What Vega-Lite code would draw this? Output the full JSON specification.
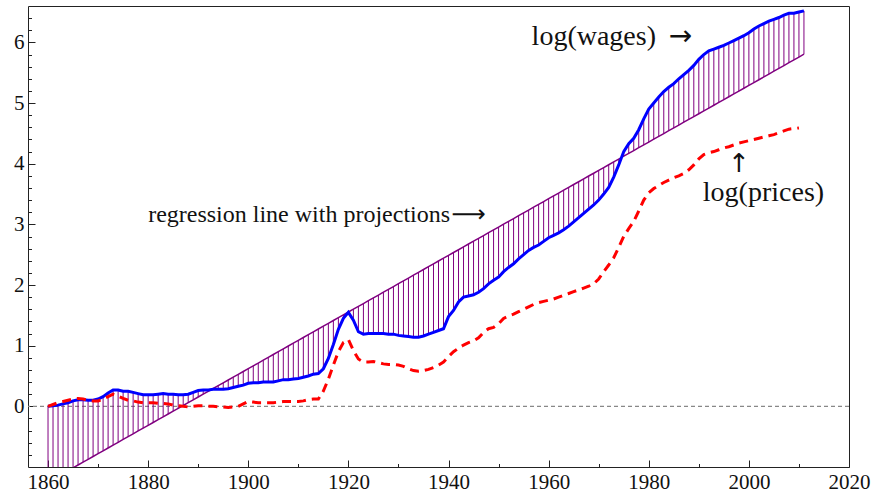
{
  "$schema": "https://vega.github.io/schema/vega-lite/v6.json",
  "width": 821,
  "height": 461,
  "autosize": "none",
  "padding": {"left": 28, "top": 6, "right": 27, "bottom": 25},
  "background": "white",
  "config": {"view": {"stroke": "#222", "strokeWidth": 1}, "font": "Liberation Serif"},
  "resolve": {"axis": {"x": "independent", "y": "independent"}},
  "datasets": {
    "series": [
      {"year":1860,"wages":0.00,"prices":0.00,"reg":-1.247},
      {"year":1861,"wages":0.01,"prices":0.03,"reg":-1.200},
      {"year":1862,"wages":0.02,"prices":0.06,"reg":-1.154},
      {"year":1863,"wages":0.04,"prices":0.08,"reg":-1.107},
      {"year":1864,"wages":0.06,"prices":0.10,"reg":-1.060},
      {"year":1865,"wages":0.09,"prices":0.12,"reg":-1.014},
      {"year":1866,"wages":0.11,"prices":0.13,"reg":-0.967},
      {"year":1867,"wages":0.11,"prices":0.12,"reg":-0.920},
      {"year":1868,"wages":0.10,"prices":0.10,"reg":-0.873},
      {"year":1869,"wages":0.10,"prices":0.09,"reg":-0.827},
      {"year":1870,"wages":0.12,"prices":0.09,"reg":-0.780},
      {"year":1871,"wages":0.16,"prices":0.12,"reg":-0.733},
      {"year":1872,"wages":0.22,"prices":0.16,"reg":-0.687},
      {"year":1873,"wages":0.27,"prices":0.20,"reg":-0.640},
      {"year":1874,"wages":0.27,"prices":0.17,"reg":-0.593},
      {"year":1875,"wages":0.25,"prices":0.13,"reg":-0.546},
      {"year":1876,"wages":0.25,"prices":0.10,"reg":-0.500},
      {"year":1877,"wages":0.23,"prices":0.09,"reg":-0.453},
      {"year":1878,"wages":0.21,"prices":0.07,"reg":-0.406},
      {"year":1879,"wages":0.19,"prices":0.06,"reg":-0.360},
      {"year":1880,"wages":0.19,"prices":0.06,"reg":-0.313},
      {"year":1881,"wages":0.19,"prices":0.06,"reg":-0.266},
      {"year":1882,"wages":0.20,"prices":0.05,"reg":-0.220},
      {"year":1883,"wages":0.21,"prices":0.05,"reg":-0.173},
      {"year":1884,"wages":0.20,"prices":0.04,"reg":-0.126},
      {"year":1885,"wages":0.20,"prices":0.02,"reg":-0.079},
      {"year":1886,"wages":0.19,"prices":0.01,"reg":-0.033},
      {"year":1887,"wages":0.19,"prices":0.00,"reg":0.014},
      {"year":1888,"wages":0.20,"prices":-0.01,"reg":0.061},
      {"year":1889,"wages":0.23,"prices":0.00,"reg":0.107},
      {"year":1890,"wages":0.26,"prices":0.01,"reg":0.154},
      {"year":1891,"wages":0.27,"prices":0.01,"reg":0.201},
      {"year":1892,"wages":0.27,"prices":0.00,"reg":0.247},
      {"year":1893,"wages":0.28,"prices":0.00,"reg":0.294},
      {"year":1894,"wages":0.28,"prices":-0.01,"reg":0.341},
      {"year":1895,"wages":0.28,"prices":-0.01,"reg":0.388},
      {"year":1896,"wages":0.29,"prices":-0.02,"reg":0.434},
      {"year":1897,"wages":0.31,"prices":-0.01,"reg":0.481},
      {"year":1898,"wages":0.33,"prices":0.00,"reg":0.528},
      {"year":1899,"wages":0.35,"prices":0.04,"reg":0.574},
      {"year":1900,"wages":0.38,"prices":0.08,"reg":0.621},
      {"year":1901,"wages":0.39,"prices":0.07,"reg":0.668},
      {"year":1902,"wages":0.39,"prices":0.06,"reg":0.714},
      {"year":1903,"wages":0.40,"prices":0.06,"reg":0.761},
      {"year":1904,"wages":0.40,"prices":0.06,"reg":0.808},
      {"year":1905,"wages":0.40,"prices":0.06,"reg":0.855},
      {"year":1906,"wages":0.42,"prices":0.07,"reg":0.901},
      {"year":1907,"wages":0.44,"prices":0.08,"reg":0.948},
      {"year":1908,"wages":0.44,"prices":0.08,"reg":0.995},
      {"year":1909,"wages":0.45,"prices":0.08,"reg":1.041},
      {"year":1910,"wages":0.46,"prices":0.08,"reg":1.088},
      {"year":1911,"wages":0.48,"prices":0.09,"reg":1.135},
      {"year":1912,"wages":0.50,"prices":0.11,"reg":1.181},
      {"year":1913,"wages":0.53,"prices":0.12,"reg":1.228},
      {"year":1914,"wages":0.54,"prices":0.12,"reg":1.275},
      {"year":1915,"wages":0.62,"prices":0.25,"reg":1.322},
      {"year":1916,"wages":0.79,"prices":0.45,"reg":1.368},
      {"year":1917,"wages":1.02,"prices":0.68,"reg":1.415},
      {"year":1918,"wages":1.27,"prices":0.90,"reg":1.462},
      {"year":1919,"wages":1.45,"prices":1.05,"reg":1.508},
      {"year":1920,"wages":1.55,"prices":1.10,"reg":1.555},
      {"year":1921,"wages":1.42,"prices":0.92,"reg":1.602},
      {"year":1922,"wages":1.23,"prices":0.78,"reg":1.648},
      {"year":1923,"wages":1.19,"prices":0.73,"reg":1.695},
      {"year":1924,"wages":1.20,"prices":0.73,"reg":1.742},
      {"year":1925,"wages":1.20,"prices":0.74,"reg":1.789},
      {"year":1926,"wages":1.20,"prices":0.72,"reg":1.835},
      {"year":1927,"wages":1.20,"prices":0.70,"reg":1.882},
      {"year":1928,"wages":1.19,"prices":0.69,"reg":1.929},
      {"year":1929,"wages":1.19,"prices":0.69,"reg":1.975},
      {"year":1930,"wages":1.17,"prices":0.68,"reg":2.022},
      {"year":1931,"wages":1.16,"prices":0.66,"reg":2.069},
      {"year":1932,"wages":1.15,"prices":0.62,"reg":2.115},
      {"year":1933,"wages":1.14,"prices":0.59,"reg":2.162},
      {"year":1934,"wages":1.14,"prices":0.58,"reg":2.209},
      {"year":1935,"wages":1.16,"prices":0.59,"reg":2.256},
      {"year":1936,"wages":1.19,"prices":0.61,"reg":2.302},
      {"year":1937,"wages":1.22,"prices":0.64,"reg":2.349},
      {"year":1938,"wages":1.25,"prices":0.68,"reg":2.396},
      {"year":1939,"wages":1.28,"prices":0.73,"reg":2.442},
      {"year":1940,"wages":1.48,"prices":0.82,"reg":2.489},
      {"year":1941,"wages":1.58,"prices":0.90,"reg":2.536},
      {"year":1942,"wages":1.72,"prices":0.96,"reg":2.582},
      {"year":1943,"wages":1.80,"prices":1.01,"reg":2.629},
      {"year":1944,"wages":1.82,"prices":1.05,"reg":2.676},
      {"year":1945,"wages":1.84,"prices":1.08,"reg":2.723},
      {"year":1946,"wages":1.88,"prices":1.13,"reg":2.769},
      {"year":1947,"wages":1.94,"prices":1.22,"reg":2.816},
      {"year":1948,"wages":2.02,"prices":1.28,"reg":2.863},
      {"year":1949,"wages":2.08,"prices":1.30,"reg":2.909},
      {"year":1950,"wages":2.13,"prices":1.36,"reg":2.956},
      {"year":1951,"wages":2.22,"prices":1.45,"reg":3.003},
      {"year":1952,"wages":2.29,"prices":1.49,"reg":3.049},
      {"year":1953,"wages":2.35,"prices":1.52,"reg":3.096},
      {"year":1954,"wages":2.43,"prices":1.56,"reg":3.143},
      {"year":1955,"wages":2.50,"prices":1.60,"reg":3.190},
      {"year":1956,"wages":2.57,"prices":1.64,"reg":3.236},
      {"year":1957,"wages":2.62,"prices":1.68,"reg":3.283},
      {"year":1958,"wages":2.66,"prices":1.71,"reg":3.330},
      {"year":1959,"wages":2.72,"prices":1.73,"reg":3.376},
      {"year":1960,"wages":2.78,"prices":1.75,"reg":3.423},
      {"year":1961,"wages":2.82,"prices":1.77,"reg":3.470},
      {"year":1962,"wages":2.86,"prices":1.80,"reg":3.516},
      {"year":1963,"wages":2.91,"prices":1.83,"reg":3.563},
      {"year":1964,"wages":2.97,"prices":1.86,"reg":3.610},
      {"year":1965,"wages":3.04,"prices":1.89,"reg":3.657},
      {"year":1966,"wages":3.11,"prices":1.92,"reg":3.703},
      {"year":1967,"wages":3.18,"prices":1.95,"reg":3.750},
      {"year":1968,"wages":3.25,"prices":1.98,"reg":3.797},
      {"year":1969,"wages":3.32,"prices":2.02,"reg":3.843},
      {"year":1970,"wages":3.40,"prices":2.10,"reg":3.890},
      {"year":1971,"wages":3.50,"prices":2.22,"reg":3.937},
      {"year":1972,"wages":3.61,"prices":2.33,"reg":3.983},
      {"year":1973,"wages":3.78,"prices":2.45,"reg":4.030},
      {"year":1974,"wages":3.98,"prices":2.62,"reg":4.077},
      {"year":1975,"wages":4.20,"prices":2.80,"reg":4.124},
      {"year":1976,"wages":4.33,"prices":2.93,"reg":4.170},
      {"year":1977,"wages":4.42,"prices":3.05,"reg":4.217},
      {"year":1978,"wages":4.56,"prices":3.22,"reg":4.264},
      {"year":1979,"wages":4.74,"prices":3.40,"reg":4.310},
      {"year":1980,"wages":4.90,"prices":3.52,"reg":4.357},
      {"year":1981,"wages":5.00,"prices":3.59,"reg":4.404},
      {"year":1982,"wages":5.10,"prices":3.64,"reg":4.450},
      {"year":1983,"wages":5.19,"prices":3.69,"reg":4.497},
      {"year":1984,"wages":5.26,"prices":3.73,"reg":4.544},
      {"year":1985,"wages":5.32,"prices":3.77,"reg":4.591},
      {"year":1986,"wages":5.40,"prices":3.80,"reg":4.637},
      {"year":1987,"wages":5.47,"prices":3.84,"reg":4.684},
      {"year":1988,"wages":5.54,"prices":3.90,"reg":4.731},
      {"year":1989,"wages":5.62,"prices":3.98,"reg":4.777},
      {"year":1990,"wages":5.72,"prices":4.08,"reg":4.824},
      {"year":1991,"wages":5.80,"prices":4.15,"reg":4.871},
      {"year":1992,"wages":5.86,"prices":4.18,"reg":4.917},
      {"year":1993,"wages":5.89,"prices":4.20,"reg":4.964},
      {"year":1994,"wages":5.92,"prices":4.23,"reg":5.011},
      {"year":1995,"wages":5.95,"prices":4.26,"reg":5.058},
      {"year":1996,"wages":5.99,"prices":4.28,"reg":5.104},
      {"year":1997,"wages":6.03,"prices":4.31,"reg":5.151},
      {"year":1998,"wages":6.07,"prices":4.34,"reg":5.198},
      {"year":1999,"wages":6.11,"prices":4.36,"reg":5.244},
      {"year":2000,"wages":6.16,"prices":4.38,"reg":5.291},
      {"year":2001,"wages":6.22,"prices":4.40,"reg":5.338},
      {"year":2002,"wages":6.27,"prices":4.42,"reg":5.384},
      {"year":2003,"wages":6.31,"prices":4.44,"reg":5.431},
      {"year":2004,"wages":6.35,"prices":4.46,"reg":5.478},
      {"year":2005,"wages":6.38,"prices":4.48,"reg":5.525},
      {"year":2006,"wages":6.41,"prices":4.51,"reg":5.571},
      {"year":2007,"wages":6.45,"prices":4.54,"reg":5.618},
      {"year":2008,"wages":6.48,"prices":4.57,"reg":5.665},
      {"year":2009,"wages":6.48,"prices":4.58,"reg":5.711},
      {"year":2010,"wages":6.50,"prices":4.59,"reg":5.758},
      {"year":2011,"wages":6.52,"prices":null,"reg":5.805}
    ],
    "one": [{}]
  },
  "layer": [
    {
      "data": {"name": "one"},
      "mark": {"type": "rule", "color": "#888", "strokeDash": [4, 3], "strokeWidth": 1.3},
      "encoding": {"y": {"datum": 0, "type": "quantitative", "axis": null}}
    },
    {
      "data": {"name": "series"},
      "mark": {"type": "rule", "color": "#800080", "strokeWidth": 1, "clip": true},
      "encoding": {
        "x": {
          "field": "year", "type": "quantitative",
          "scale": {"domain": [1856, 2020], "nice": false, "zero": false},
          "axis": {
            "title": null, "domain": false, "grid": false, "orient": "bottom",
            "values": [1860,1870,1880,1890,1900,1910,1920,1930,1940,1950,1960,1970,1980,1990,2000,2010,2020],
            "labelExpr": "datum.value % 20 == 0 ? '' + datum.value : ''",
            "tickSize": {"condition": {"test": "datum.value % 20 == 0", "value": -7}, "value": -3.5},
            "tickColor": "#222", "tickWidth": 1,
            "labelFont": "Liberation Serif", "labelFontSize": 21, "labelColor": "#111",
            "labelPadding": 11, "labelFlush": false, "labelOverlap": false, "labelBound": false
          }
        },
        "y": {
          "field": "reg", "type": "quantitative",
          "scale": {"domain": [-1, 6.6], "nice": false, "zero": false},
          "axis": {
            "title": null, "domain": false, "grid": false, "orient": "left",
            "values": [-0.8,-0.6,-0.4,-0.2,0,0.2,0.4,0.6,0.8,1,1.2,1.4,1.6,1.8,2,2.2,2.4,2.6,2.8,3,3.2,3.4,3.6,3.8,4,4.2,4.4,4.6,4.8,5,5.2,5.4,5.6,5.8,6,6.2,6.4],
            "labelExpr": "abs(datum.value - round(datum.value)) < 0.01 ? '' + round(datum.value) : ''",
            "tickSize": {"condition": {"test": "abs(datum.value - round(datum.value)) < 0.01", "value": -7}, "value": -3.5},
            "tickColor": "#222", "tickWidth": 1,
            "labelFont": "Liberation Serif", "labelFontSize": 21, "labelColor": "#111",
            "labelPadding": 11, "labelOverlap": false, "labelBound": false, "labelFlush": false
          }
        },
        "y2": {"field": "wages"}
      }
    },
    {
      "data": {"name": "series"},
      "mark": {"type": "line", "color": "#800080", "strokeWidth": 1.5, "clip": true},
      "encoding": {
        "x": {"field": "year", "type": "quantitative", "axis": null},
        "y": {"field": "reg", "type": "quantitative", "axis": null}
      }
    },
    {
      "data": {"name": "series"},
      "mark": {"type": "line", "color": "#0000ff", "strokeWidth": 3, "clip": true},
      "encoding": {
        "x": {"field": "year", "type": "quantitative", "axis": null},
        "y": {"field": "wages", "type": "quantitative", "axis": null}
      }
    },
    {
      "data": {"name": "series"},
      "mark": {"type": "line", "color": "#ff0000", "strokeWidth": 3, "strokeDash": [9, 6], "clip": true},
      "encoding": {
        "x": {"field": "year", "type": "quantitative", "axis": null},
        "y": {"field": "prices", "type": "quantitative", "axis": null}
      }
    },
    {
      "data": {"name": "one"},
      "mark": {"type": "text", "text": "log(wages)", "align": "left", "baseline": "alphabetic", "font": "Liberation Serif", "fontSize": 28, "color": "#111"},
      "encoding": {"x": {"datum": 1956.6, "type": "quantitative", "axis": null}, "y": {"datum": 5.96, "type": "quantitative", "axis": null}}
    },
    {
      "data": {"name": "one"},
      "mark": {"type": "text", "text": "→", "align": "left", "baseline": "alphabetic", "font": "DejaVu Sans", "fontSize": 28, "color": "#111"},
      "encoding": {"x": {"datum": 1984.0, "type": "quantitative", "axis": null}, "y": {"datum": 5.96, "type": "quantitative", "axis": null}}
    },
    {
      "data": {"name": "one"},
      "mark": {"type": "text", "text": "↑", "align": "center", "baseline": "alphabetic", "font": "DejaVu Sans", "fontSize": 26, "color": "#111"},
      "encoding": {"x": {"datum": 1998.0, "type": "quantitative", "axis": null}, "y": {"datum": 3.87, "type": "quantitative", "axis": null}}
    },
    {
      "data": {"name": "one"},
      "mark": {"type": "text", "text": "log(prices)", "align": "left", "baseline": "alphabetic", "font": "Liberation Serif", "fontSize": 28, "color": "#111"},
      "encoding": {"x": {"datum": 1990.8, "type": "quantitative", "axis": null}, "y": {"datum": 3.38, "type": "quantitative", "axis": null}}
    },
    {
      "data": {"name": "one"},
      "mark": {"type": "text", "text": "regression line with projections", "align": "left", "baseline": "alphabetic", "font": "Liberation Serif", "fontSize": 24, "color": "#111"},
      "encoding": {"x": {"datum": 1880.0, "type": "quantitative", "axis": null}, "y": {"datum": 3.04, "type": "quantitative", "axis": null}}
    },
    {
      "data": {"name": "one"},
      "mark": {"type": "text", "text": "⟶", "align": "left", "baseline": "alphabetic", "font": "DejaVu Sans", "fontSize": 24, "color": "#111"},
      "encoding": {"x": {"datum": 1940.6, "type": "quantitative", "axis": null}, "y": {"datum": 3.04, "type": "quantitative", "axis": null}}
    }
  ]
}
